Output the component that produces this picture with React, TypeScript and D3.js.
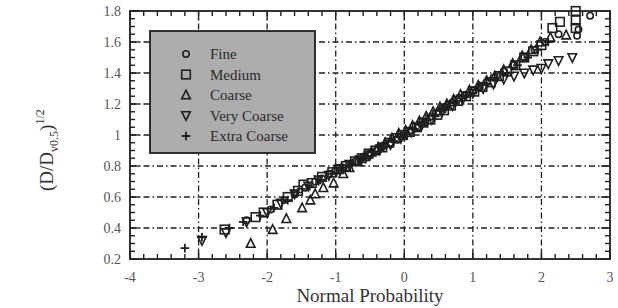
import React from 'react'
import * as d3 from 'd3'

type Pt = [number, number]

// normal probability (x) vs (D/Dv0.5)^1/2 (y)
const fine: Pt[] = [
  [-2.3, 0.45], [-1.95, 0.52], [-1.75, 0.58], [-1.6, 0.62], [-1.45, 0.66], [-1.3, 0.7], [-1.2, 0.72],
  [-1.1, 0.75], [-1.0, 0.77], [-0.9, 0.79], [-0.8, 0.81], [-0.7, 0.83], [-0.6, 0.86], [-0.5, 0.88],
  [-0.4, 0.9], [-0.3, 0.93], [-0.2, 0.95], [-0.1, 0.97], [0, 1.0], [0.1, 1.03], [0.2, 1.05],
  [0.3, 1.08], [0.4, 1.12], [0.5, 1.15], [0.6, 1.18], [0.7, 1.21], [0.8, 1.24], [0.9, 1.26],
  [1.0, 1.29], [1.1, 1.31], [1.2, 1.34], [1.3, 1.37], [1.45, 1.41], [1.6, 1.45], [1.75, 1.5],
  [1.9, 1.55], [2.05, 1.6], [2.25, 1.65], [2.52, 1.64], [2.54, 1.68], [2.71, 1.77],
]
const medium: Pt[] = [
  [-2.62, 0.39], [-2.17, 0.47], [-2.05, 0.5], [-1.85, 0.55], [-1.7, 0.6], [-1.55, 0.64], [-1.47, 0.68],
  [-1.35, 0.69], [-1.2, 0.73], [-1.05, 0.76], [-0.95, 0.78], [-0.85, 0.8], [-0.72, 0.83], [-0.62, 0.85],
  [-0.52, 0.88], [-0.42, 0.9], [-0.32, 0.92], [-0.22, 0.95], [-0.12, 0.98], [-0.02, 1.0], [0.08, 1.02],
  [0.18, 1.05], [0.28, 1.08], [0.38, 1.1], [0.48, 1.13], [0.58, 1.16], [0.68, 1.19], [0.78, 1.22],
  [0.9, 1.25], [1.02, 1.28], [1.14, 1.31], [1.26, 1.34], [1.38, 1.38], [1.5, 1.41], [1.62, 1.45],
  [1.75, 1.5], [1.88, 1.54], [2.0, 1.58], [2.16, 1.69], [2.27, 1.73], [2.5, 1.69], [2.5, 1.74], [2.5, 1.8],
]
const coarse: Pt[] = [
  [-2.24, 0.3], [-1.92, 0.39], [-1.72, 0.46], [-1.49, 0.53], [-1.37, 0.58], [-1.3, 0.62], [-1.18, 0.66],
  [-1.03, 0.69], [-0.89, 0.75], [-0.8, 0.79], [-0.68, 0.83], [-0.58, 0.86], [-0.48, 0.89], [-0.38, 0.92],
  [-0.28, 0.95], [-0.18, 0.98], [-0.08, 1.01], [0.02, 1.03], [0.12, 1.06], [0.22, 1.09], [0.32, 1.12],
  [0.42, 1.15], [0.52, 1.18], [0.62, 1.2], [0.72, 1.23], [0.82, 1.26], [0.95, 1.29], [1.08, 1.32],
  [1.2, 1.35], [1.32, 1.38], [1.45, 1.42], [1.58, 1.46], [1.72, 1.51], [1.85, 1.55], [1.98, 1.6],
  [2.13, 1.63], [2.36, 1.645],
]
const veryCoarse: Pt[] = [
  [-2.95, 0.32], [-2.6, 0.37], [-2.3, 0.44], [-2.0, 0.5], [-1.8, 0.56], [-1.6, 0.62], [-1.4, 0.67],
  [-1.25, 0.71], [-1.1, 0.74], [-0.95, 0.78], [-0.8, 0.81], [-0.65, 0.84], [-0.5, 0.87], [-0.35, 0.91],
  [-0.2, 0.94], [-0.05, 0.98], [0.1, 1.02], [0.25, 1.06], [0.4, 1.1], [0.55, 1.15], [0.7, 1.19],
  [0.85, 1.23], [1.0, 1.27], [1.15, 1.3], [1.3, 1.33], [1.45, 1.36], [1.6, 1.38], [1.75, 1.4],
  [1.88, 1.42], [2.0, 1.43], [2.1, 1.46], [2.25, 1.48], [2.45, 1.5],
]
const extraCoarse: Pt[] = [
  [-3.2, 0.27], [-2.95, 0.34], [-2.55, 0.4], [-2.35, 0.44], [-2.1, 0.48], [-1.9, 0.53], [-1.7, 0.58],
  [-1.55, 0.63], [-1.38, 0.67], [-1.22, 0.71], [-1.06, 0.75], [-0.92, 0.79], [-0.76, 0.82], [-0.6, 0.85],
  [-0.45, 0.89], [-0.3, 0.92], [-0.15, 0.96], [0, 0.99], [0.15, 1.04], [0.3, 1.08], [0.45, 1.12],
  [0.6, 1.17], [0.75, 1.21], [0.9, 1.25], [1.05, 1.29], [1.2, 1.33], [1.35, 1.37], [1.5, 1.4],
  [1.65, 1.45], [1.8, 1.5], [1.95, 1.55], [2.1, 1.6],
]

const seriesNames = ['Fine', 'Medium', 'Coarse', 'Very Coarse', 'Extra Coarse']
const seriesData = [fine, medium, coarse, veryCoarse, extraCoarse]
const seriesShapes = ['circle', 'square', 'up', 'down', 'plus']

const xTicks = [-4, -3, -2, -1, 0, 1, 2, 3]
const yTicks = [0.2, 0.4, 0.6, 0.8, 1, 1.2, 1.4, 1.6, 1.8]

const x = d3.scaleLinear().domain([-4, 3]).range([130, 610])
const y = d3.scaleLinear().domain([0.2, 1.8]).range([259, 11])

const ink = '#1f1f1f'
const font = '"Liberation Serif", "DejaVu Serif", serif'

function Marker({ shape, cx, cy }: { shape: string; cx: number; cy: number }) {
  const s = 4.3
  const common = { fill: 'none', stroke: ink, strokeWidth: 1.6 }
  if (shape === 'circle') return <circle cx={cx} cy={cy} r={3.2} {...common} />
  if (shape === 'square') return <rect x={cx - s} y={cy - s} width={s * 2} height={s * 2} {...common} />
  if (shape === 'up') return <path d={`M${cx},${cy - s - 0.5}L${cx + s},${cy + s - 0.5}L${cx - s},${cy + s - 0.5}Z`} {...common} />
  if (shape === 'down') return <path d={`M${cx},${cy + s + 0.5}L${cx + s},${cy - s + 0.5}L${cx - s},${cy - s + 0.5}Z`} {...common} />
  return <path d={`M${cx - s},${cy}H${cx + s}M${cx},${cy - s}V${cy + s}`} {...common} strokeWidth={1.8} />
}

export default function App() {
  const [x0, x1] = x.range()
  const [y0, y1] = y.range()
  const xMinor = d3.range(-4, 3.001, 0.2)
  const yMinor = d3.range(0.2, 1.8001, 0.05)
  const gridX = xTicks.slice(1, -1)
  const gridY = yTicks.slice(1, -1)

  return (
    <svg width={618} height={308} style={{ position: 'absolute', left: 0, top: 0, background: '#fff' }}>
      <defs>
        <filter id="grain">
          <feTurbulence type="fractalNoise" baseFrequency="0.9" numOctaves="1" seed="3" />
          <feColorMatrix values="0 0 0 0 0.5  0 0 0 0 0.5  0 0 0 0 0.5  0 0 0 0.4 0" />
          <feComposite in2="SourceGraphic" operator="in" />
        </filter>
      </defs>

      {/* grid */}
      <g stroke={ink} strokeWidth={1.3} strokeDasharray="6,3,1.5,3">
        {gridX.map(t => <line key={'gx' + t} x1={x(t)} x2={x(t)} y1={y0} y2={y1} />)}
        {gridY.map(t => <line key={'gy' + t} x1={x0} x2={x1} y1={y(t)} y2={y(t)} />)}
      </g>

      {/* legend */}
      <g>
        <rect x={150} y={31} width={165} height={122} fill="#a9a9a9" stroke={ink} strokeWidth={1.8} />
        <rect x={151} y={32} width={163} height={120} fill="#fff" filter="url(#grain)" />
        {seriesNames.map((n, i) => (
          <g key={n}>
            <Marker shape={seriesShapes[i]} cx={186} cy={54 + i * 20.5} />
            <text x={210} y={54 + i * 20.5} dy="0.35em" fontFamily={font} fontSize={15} fill="#2a2a2a">{n}</text>
          </g>
        ))}
      </g>

      {/* points */}
      {seriesData.map((data, i) => (
        <g key={seriesNames[i]}>
          {data.map((d, j) => <Marker key={j} shape={seriesShapes[i]} cx={x(d[0])} cy={y(d[1])} />)}
        </g>
      ))}

      {/* frame and ticks */}
      <rect x={x0} y={y1} width={x1 - x0} height={y0 - y1} fill="none" stroke={ink} strokeWidth={1.8} />
      <g stroke={ink} strokeWidth={1.4}>
        {xMinor.map((t, i) => {
          const len = i % 5 === 0 ? 9 : 5
          return (
            <g key={'xt' + i}>
              <line x1={x(t)} x2={x(t)} y1={y0} y2={y0 - len} />
              <line x1={x(t)} x2={x(t)} y1={y1} y2={y1 + len} />
            </g>
          )
        })}
        {yMinor.map((t, i) => {
          const len = i % 4 === 0 ? 9 : 5
          return (
            <g key={'yt' + i}>
              <line x1={x0} x2={x0 + len} y1={y(t)} y2={y(t)} />
              <line x1={x1} x2={x1 - len} y1={y(t)} y2={y(t)} />
            </g>
          )
        })}
      </g>

      {/* tick labels */}
      <g fontFamily={font} fontSize={14} fill="#555">
        {xTicks.map(t => (
          <text key={'xl' + t} x={x(t)} y={282} textAnchor="middle">{t}</text>
        ))}
        {yTicks.map(t => (
          <text key={'yl' + t} x={121} y={y(t)} dy="0.35em" textAnchor="end">{d3.format('~g')(t)}</text>
        ))}
      </g>

      {/* axis titles */}
      <text x={370} y={302} textAnchor="middle" fontFamily={font} fontSize={19} fill="#333">Normal Probability</text>
      <text transform="translate(53,191) rotate(-90)" fontFamily={font} fontSize={19} fill="#333">
        (D/D<tspan fontSize={12} dy={5}>v0.5</tspan><tspan dy={-5}>)</tspan><tspan fontSize={12} dy={-9}>1/2</tspan>
      </text>
    </svg>
  )
}
